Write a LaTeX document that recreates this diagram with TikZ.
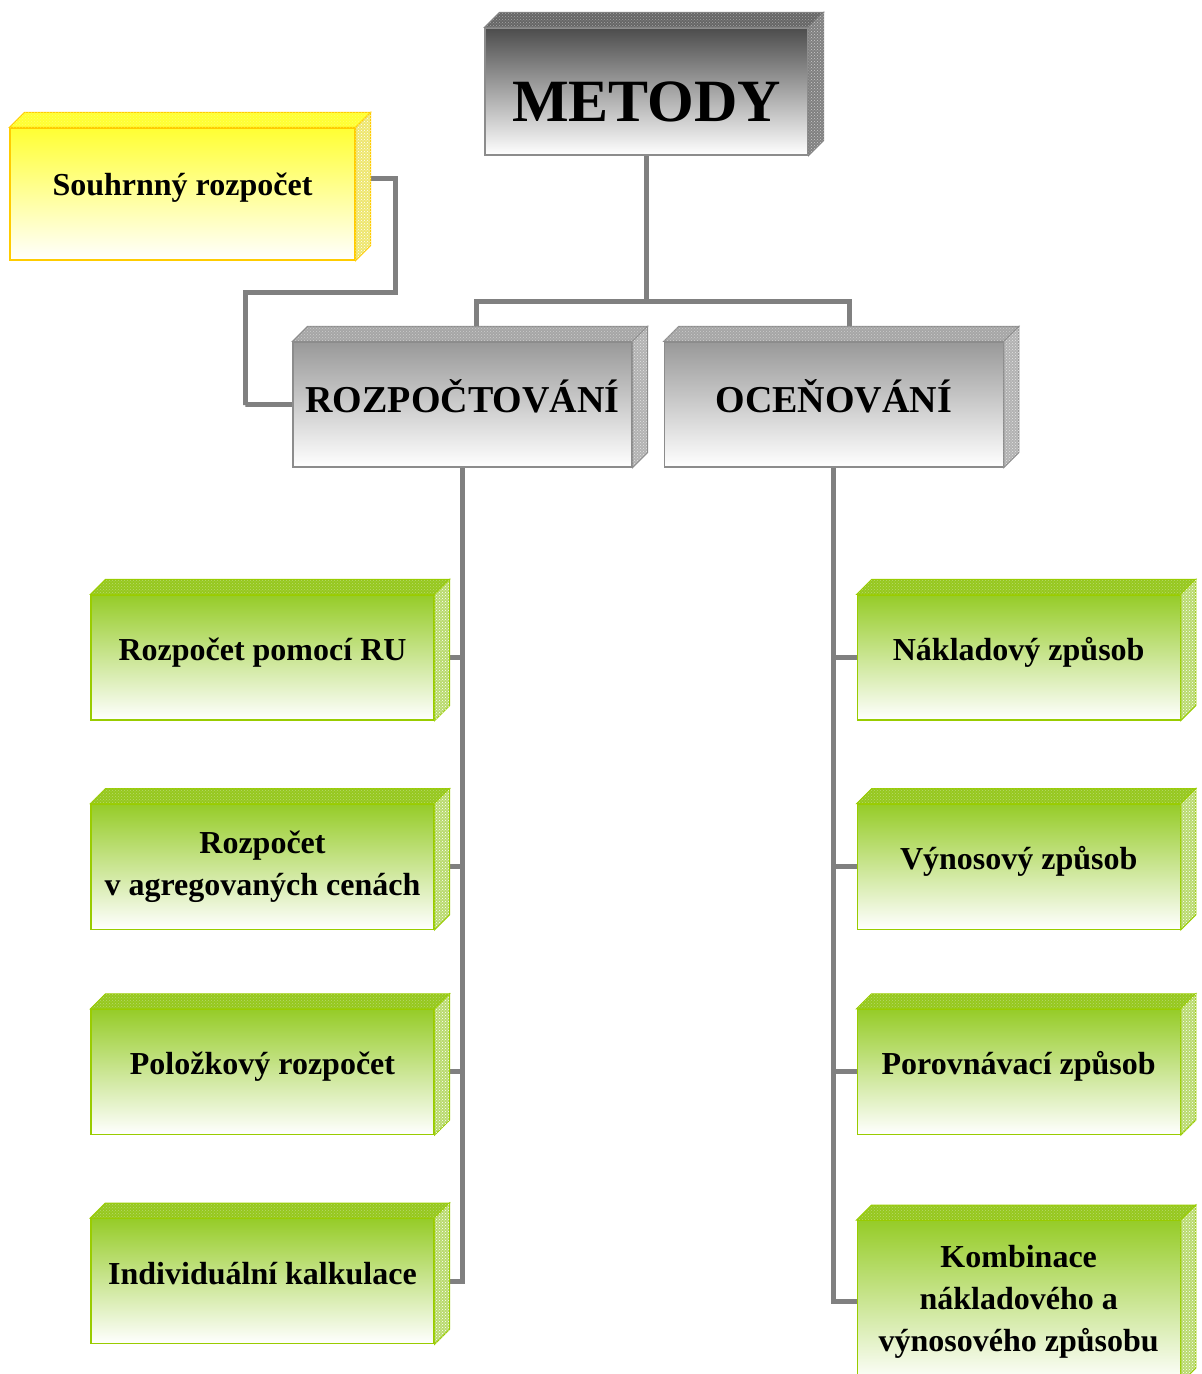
\documentclass[tikz,border=0pt]{standalone}
\usepackage{fontspec}
\setmainfont{Liberation Serif}
\usetikzlibrary{positioning}
\usetikzlibrary{calc, backgrounds, patterns}

\definecolor{linkgray}{RGB}{128,128,128}
\definecolor{boxgreen}{RGB}{153,204,0}
\definecolor{frontgreen}{RGB}{150,204,40}
\definecolor{topgreen}{RGB}{150,200,30}
\definecolor{sidegreen}{RGB}{185,218,110}
\definecolor{boxyellow}{RGB}{255,204,0}
\definecolor{frontyellow}{RGB}{255,255,51}
\definecolor{sideyellow}{RGB}{238,230,110}

\begin{document}
\begin{tikzpicture}[x=1pt,y=-1pt]
\tikzstyle{link}=[draw=linkgray,line width=5pt]
\tikzset{
  big text/.style   = {font=\bfseries\fontsize{60}{70}\selectfont,text height=60pt,text depth=0pt},
  mid text/.style   = {font=\bfseries\fontsize{38}{46}\selectfont,text height=27pt,text depth=12pt},
  small text/.style = {font=\bfseries\fontsize{32}{42}\selectfont},
  one line/.style   = {text height=22pt,text depth=#1},
  one line/.default = 16pt,
  front/.style      = {rectangle,inner sep=0,align=center,line width=1.2pt,bottom color=white},
  dark box/.style   = {front,draw=black!45,top color=black!70,minimum width=323,minimum height=127},
  gray box/.style   = {front,draw=black!45,top color=black!40,minimum width=339,minimum height=125},
  yellow box/.style = {front,draw=boxyellow,top color=frontyellow,minimum width=345,minimum height=132},
  green box/.style  = {front,draw=boxgreen,top color=frontgreen,minimum width=343,minimum height=125},
  dark top/.style   = {fill=black!60,draw=black!50,line width=1pt,postaction={pattern=crosshatch dots,pattern color=black!35}},
  dark side/.style  = {fill=black!50,draw=black!50,line width=1pt,postaction={pattern=crosshatch dots,pattern color=black!20}},
  gray top/.style   = {fill=black!35,draw=black!45,line width=1pt,postaction={pattern=crosshatch dots,pattern color=black!20}},
  gray side/.style  = {fill=black!30,draw=black!45,line width=1pt,postaction={pattern=crosshatch dots,pattern color=black!10}},
  green top/.style  = {fill=topgreen,draw=boxgreen,line width=1pt,postaction={pattern=crosshatch dots,pattern color=sidegreen}},
  green side/.style = {fill=sidegreen,draw=boxgreen,line width=1pt,postaction={pattern=crosshatch dots,pattern color=white}},
  yellow top/.style = {fill=frontyellow,draw=boxyellow,line width=1pt,postaction={pattern=crosshatch dots,pattern color=yellow!60}},
  yellow side/.style= {fill=sideyellow,draw=boxyellow,line width=1pt,postaction={pattern=crosshatch dots,pattern color=white}}
}
\useasboundingbox (0,0) rectangle (1202,1374);

    \node[dark box,big text]   (metody) at (646.5,91.5) {METODY};
    \node[yellow box,small text,one line=20pt] (souhrn) at (182.5,194) {Souhrnný rozpočet};
    \node[gray box,mid text]   (rozp)   at (462.5,404.5) {ROZPOČTOVÁNÍ};
    \node[gray box,mid text]   (ocen)   [right=31pt of rozp] {OCEŇOVÁNÍ};
    %%%%%%%%%%%%%%%%%%%%%%%%%%%%%%%%%%%
    \node[green box,small text,one line] (l1) at (262.5,657.5) {Rozpočet pomocí RU};
    \node[green box,small text] (l2) [below=83pt of l1] {Rozpočet\\v agregovaných cenách};
    \node[green box,small text,one line] (l3) [below=79pt of l2] {Položkový rozpočet};
    \node[green box,small text,one line] (l4) [below=83pt of l3] {Individuální kalkulace};
    \node[green box,small text,one line,minimum width=323] (r1) [right=422pt of l1] {Nákladový způsob};
    \node[green box,small text,one line,minimum width=323] (r2) [below=83pt of r1] {Výnosový způsob};
    \node[green box,small text,one line,minimum width=323] (r3) [below=79pt of r2] {Porovnávací způsob};
    \node[green box,small text,minimum width=323,minimum height=162] (r4) [below=85pt of r3] {Kombinace\\nákladového a\\výnosového způsobu};
    %%%%%%%%%%%%%%%%%%%%%%%%%%%%%%%%%%%
    \coordinate (split) at (646.5,301);
    \coordinate (sbend) at (395,292);
    \coordinate (rbend) at (245,405);

\foreach \n/\t in {metody/dark,souhrn/yellow,rozp/gray,ocen/gray,l1/green,l2/green,l3/green,l4/green,r1/green,r2/green,r3/green,r4/green}
{
    \path[\t\space top]  (\n.north west) -- ++(15pt,15pt) -- ([shift={(15pt,15pt)}]\n.north east) -- (\n.north east) -- cycle;
    \path[\t\space side] (\n.north east) -- ++(15pt,15pt) -- ([shift={(15pt,15pt)}]\n.south east) -- (\n.south east) -- cycle;
}

\begin{scope}[on background layer]
    \draw[link] (metody) -- (split);
    \draw[link] (split) -| ([xshift=14pt]rozp.north);
    \draw[link] (split) -| ([xshift=16pt]ocen.north);
    \draw[link] ([yshift=16pt]souhrn.east) -| (sbend) -| (rbend) |- (rozp.west);
    \foreach \b in {l1,l2,l3,l4}
        \draw[link] (rozp.south) |- (\b.east);
    \foreach \b in {r1,r2,r3,r4}
        \draw[link] (ocen.south) |- (\b.west);
\end{scope}
\end{tikzpicture}
\end{document}
